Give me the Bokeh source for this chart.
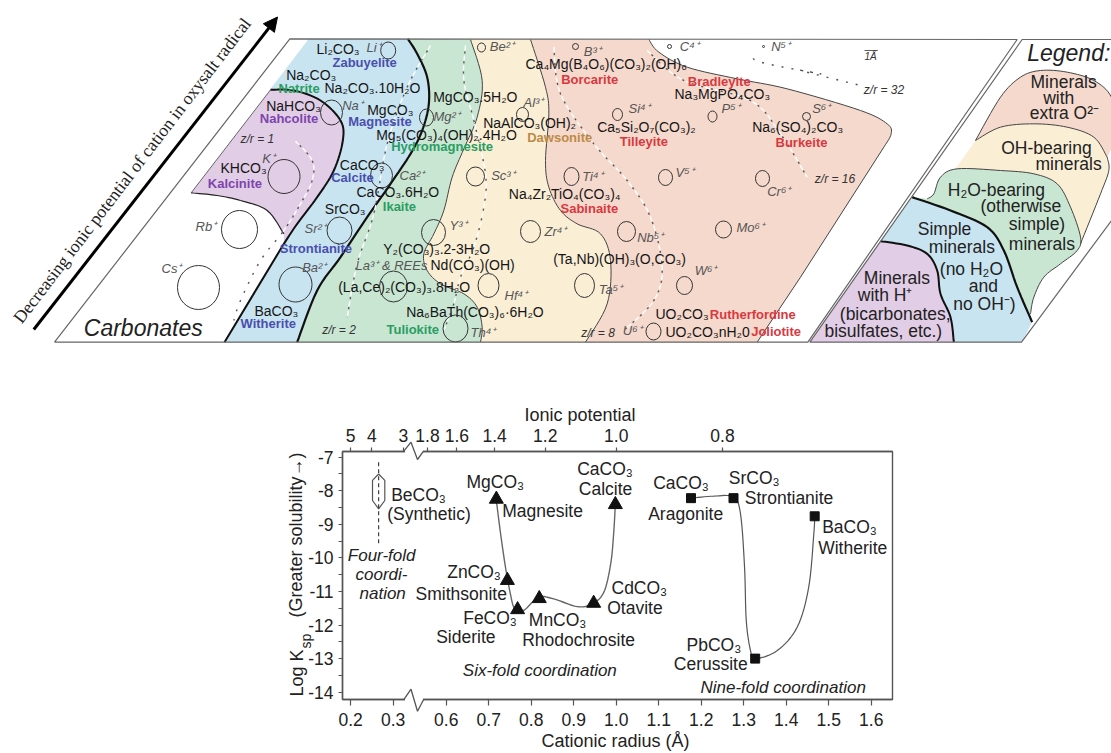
from bokeh.plotting import figure
from bokeh.layouts import column
from bokeh.embed import file_html
from bokeh.resources import INLINE
from bokeh.core.properties import value
from bokeh.models import Range1d, FixedTicker, LinearAxis, Arrow, NormalHead

SANS = "Liberation Sans"

# ---------------------------------------------------------------- lower chart data
six_names = ["MgCO3", "ZnCO3", "FeCO3", "MnCO3", "CdCO3", "CaCO3"]
six_radius = [0.718, 0.744, 0.768, 0.819, 0.947, 0.998]
six_logksp = [-8.25, -10.67, -11.54, -11.21, -11.35, -8.41]
nine_names = ["CaCO3", "SrCO3", "PbCO3", "BaCO3"]
nine_radius = [1.176, 1.276, 1.327, 1.467]
nine_logksp = [-8.22, -8.22, -13.0, -8.76]
six_curve_r = [.718, .728, .7395, .751, .759, .771, .787, .818, .853, .908, .9435, .971, .987, .994, .998]
six_curve_k = [-8.29, -9.28, -10.28, -11.07, -11.47, -11.62, -11.52, -11.17, -11.22, -11.45, -11.37, -11.02, -10.18, -9.28, -8.39]
nine_curve_r = [1.176, 1.2296, 1.276, 1.2925, 1.302, 1.306, 1.316, 1.327, 1.379, 1.426, 1.453, 1.465, 1.467]
nine_curve_k = [-8.22, -8.16, -8.19, -8.69, -10.28, -11.86, -12.76, -13.0, -12.76, -12.06, -10.87, -9.28, -8.76]
be_hex_x = [.441, .4555, .4555, .441, .4266, .4266, .441]
be_hex_y = [-7.5, -7.69, -8.29, -8.54, -8.29, -7.69, -7.5]
be_line_x = [.441, .441]
be_line_y = [-7.15, -9.58]

radius_ticks = [0.2, 0.3, 0.6, 0.7, 0.8, 0.9, 1.0, 1.1, 1.2, 1.3, 1.4, 1.5, 1.6]
potential_labels = ["5", "4", "3", "1.8", "1.6", "1.4", "1.2", "1.0", "0.8"]
potential_pos = [0.375, 0.425, 0.4995, 0.556, 0.625, 0.714, 0.833, 1.0, 1.25]
logk_ticks = [-7, -8, -9, -10, -11, -12, -13, -14]
logk_minor = [-7.5, -8.5, -9.5, -10.5, -11.5, -12.5, -13.5]
BREAK = 0.175


def z1(p):
    return [(x / 3, y / 3) for x, y in p]


def z2(p):
    return [(420 + x / 3, 20 + y / 3) for x, y in p]


def z3(p):
    return [(800 + x / 3, 30 + y / 3) for x, y in p]


def smooth(pts, n=8):
    """Rounded path through the hand-read outline points of a schematic field."""
    P = [pts[0]] + list(pts) + [pts[-1]]
    out = []
    for i in range(1, len(P) - 2):
        for k in range(n):
            t = k / n
            o = []
            for d in (0, 1):
                a, b, c, e = P[i - 1][d], P[i][d], P[i + 1][d], P[i + 2][d]
                o.append(.5 * (2 * b + (c - a) * t + (2 * a - 5 * b + 4 * c - e) * t * t + (3 * b - a - 3 * c + e) * t ** 3))
            out.append(tuple(o))
    out.append(pts[-1])
    return out


# ---------------------------------------------------------------- upper diagram data
blue_right = z1([(1222, 115), (1250, 160), (1280, 230), (1285, 310), (1265, 390), (1230, 460), (1170, 550), (1100, 650), (1020, 770), (950, 870), (890, 1025)])
green_right = z2([(150, 57), (185, 180), (170, 290), (130, 385), (95, 470), (70, 570), (40, 640), (10, 700), (20, 750), (60, 790), (130, 820), (170, 860), (185, 920), (180, 965)])
yellow_right = z2([(330, 57), (375, 200), (385, 280), (375, 420), (385, 500), (420, 570), (470, 610), (540, 640), (570, 720), (560, 850), (495, 965)])
pink_top = z2([(685, 57), (715, 95), (800, 140), (950, 175), (1100, 205)]) + z3([(180, 240), (260, 280), (272, 310), (250, 350)])
pink_edge = z3([(250, 350), (0, 740)]) + z2([(1010, 965)])
purple_top = z1([(810, 268), (880, 270), (960, 300), (1020, 360), (1027, 420), (1000, 510), (950, 590), (890, 670), (850, 730), (672, 1025)])
purple_bot = z1([(850, 700), (800, 630), (720, 600), (650, 585), (572, 577)])

lg_pink_top = z3([(525, 330), (600, 200), (660, 140), (720, 120), (800, 125), (880, 150), (933, 200), (960, 300)])
lg_pink_bot = z3([(525, 330), (600, 290), (700, 280), (800, 290), (880, 320), (920, 380)])
lg_yel_right = z3([(920, 380), (925, 420), (900, 490), (840, 640)])
lg_green_top = z3([(380, 505), (400, 490), (420, 440), (470, 415), (600, 420), (700, 430), (770, 460), (810, 530), (840, 620), (830, 660), (780, 700), (730, 740), (700, 800), (690, 850)])
lg_blue_top = z3([(335, 500), (450, 540), (560, 590), (610, 660), (650, 770), (695, 875)])
lg_purple_top = z3([(240, 632), (320, 645), (380, 670), (410, 720), (420, 790), (450, 860), (460, 935)])

contours = [
    z1([(885, 422), (935, 480), (935, 540), (900, 610), (850, 690), (780, 780), (720, 900), (700, 960)]),
    z1([(1290, 135), (1220, 260), (1160, 430), (1120, 640), (1070, 790), (1040, 950)]),
    z2([(135, 75), (130, 180), (160, 300), (195, 460), (190, 560), (160, 680), (120, 770), (100, 850), (70, 930)]),
    z2([(400, 80), (420, 220), (520, 370), (620, 480), (690, 590), (725, 740), (700, 840), (610, 930)]),
    z2([(680, 90), (790, 180), (990, 240), (1080, 340), (1160, 470)]),
    z2([(990, 98), (1020, 125), (1200, 160)]) + z3([(0, 120), (180, 165)]),
]

ion_x = [387.7, 331, 426, 283.5, 381, 239, 339, 198, 295, 393, 433, 455, 488, 475, 522, 481, 575, 669, 763, 617, 712, 806, 571, 665, 762, 530, 626, 723, 584, 684, 653]
ion_y = [50, 112, 117, 176, 175, 229, 230, 287, 284, 286, 232, 328, 285, 176, 114, 47, 46, 46, 46, 114, 116, 116, 176, 177, 178, 231, 231, 229, 285, 285, 331]
ion_w = [15, 22, 14, 32, 22, 36, 25, 42, 33, 28, 24, 25, 21, 18, 12, 8, 6, 4, 2, 10, 9, 8, 15, 14, 14, 20, 18, 16, 20, 16, 15]
ion_h = [17, 25, 17, 34, 25, 38, 27, 44, 35, 31, 26, 27, 24, 19, 14, 9, 6, 4, 2, 12, 11, 8, 18, 16, 16, 22, 20, 17, 24, 18, 17]

ion_labels = ["Li⁺", "Na⁺", "Mg²⁺", "K⁺", "Ca²⁺", "Sr²⁺", "Rb⁺", "Y³⁺", "La³⁺ & REEs", "Cs⁺", "Ba²⁺", "Th⁴⁺", "Be²⁺", "B³⁺", "C⁴⁺", "N⁵⁺", "Al³⁺", "Si⁴⁺", "P⁵⁺", "S⁶⁺", "Sc³⁺", "Ti⁴⁺", "V⁵⁺", "Cr⁶⁺", "Zr⁴⁺", "Nb⁵⁺", "Mo⁶⁺", "W⁶⁺", "Ta⁵⁺", "Hf⁴⁺", "U⁶⁺"]
ion_lx = [366, 341.7, 433, 261.7, 399, 304, 195, 449, 355, 161, 301.7, 470, 489.3, 583.3, 679.3, 770.7, 523, 628, 721, 811.7, 490.7, 581.7, 675, 766.7, 544, 636.7, 736, 694.3, 598.3, 504, 622.3]
ion_ly = [52, 110, 120.7, 162.7, 180, 232.7, 231, 230, 269.3, 272.7, 271.7, 336.7, 50.7, 56, 50.7, 50.7, 106.7, 113, 113, 113, 179.3, 181, 176.7, 196, 236, 241.7, 231.7, 275, 293.3, 300, 335]

formula_labels = ["Li₂CO₃", "Na₂CO₃", "Na₂CO₃.10H₂O", "NaHCO₃", "MgCO₃", "Mg₅(CO₃)₄(OH)₂.4H₂O", "KHCO₃", "CaCO₃", "CaCO₃.6H₂O", "SrCO₃", "Y₂(CO₃)₃.2-3H₂O", "Nd(CO₃)(OH)", "(La,Ce)₂(CO₃)₃.8H₂O", "BaCO₃", "Na₆BaTh(CO₃)₆·6H₂O", "Ca₄Mg(B₄O₆)(CO₃)₂(OH)₆", "Na₃MgPO₄CO₃", "MgCO₃.5H₂O", "NaAlCO₃(OH)₂", "Ca₅Si₂O₇(CO₃)₂", "Na₆(SO₄)₂CO₃", "Na₄Zr₂TiO₄(CO₃)₄", "(Ta,Nb)(OH)₃(O,CO₃)", "UO₂CO₃", "UO₂CO₃nH₂0"]
formula_x = [316, 285.7, 324, 265.7, 366.7, 375.7, 220, 339.3, 356, 324.3, 382.7, 430, 337.7, 254, 405.7, 525, 674, 432.7, 482.7, 596.7, 751.7, 508.3, 552.7, 655, 665]
formula_y = [53, 79.3, 92.7, 110.7, 114.3, 139, 172.7, 169.3, 196.7, 213.3, 253.3, 269.3, 291.7, 315, 316, 68.3, 98.3, 101.7, 127.3, 131.7, 131.7, 198.3, 263.3, 318.3, 336]

BLUE_T, GREEN_T, PURPLE_T, RED_T, BROWN_T = "#4a4fae", "#2a9d62", "#7d45ab", "#d9383f", "#bd8a45"
mineral_labels = ["Zabuyelite", "Natrite", "Nahcolite", "Magnesite", "Hydromagnesite", "Kalcinite", "Calcite", "Ikaite", "Strontianite", "Witherite", "Tuliokite", "Borcarite", "Bradleyite", "Dawsonite", "Tilleyite", "Burkeite", "Sabinaite", "Rutherfordine", "Joliotite"]
mineral_x = [332, 278, 259.3, 347.7, 390.7, 207.3, 330.7, 382.3, 279.3, 240, 386, 560.7, 687.3, 526.7, 619.3, 775, 560, 709.3, 750.7]
mineral_y = [66.7, 92.7, 122.7, 126, 151, 187.3, 181.7, 211, 252.3, 327.7, 333.3, 83.3, 85.3, 141.7, 146, 146.7, 212.7, 318.3, 336]
mineral_c = [BLUE_T, GREEN_T, PURPLE_T, BLUE_T, GREEN_T, PURPLE_T, BLUE_T, GREEN_T, BLUE_T, BLUE_T, GREEN_T, RED_T, RED_T, BROWN_T, RED_T, RED_T, RED_T, RED_T, RED_T]

zr_labels = ["z/r = 1", "z/r = 2", "z/r = 8", "z/r = 16", "z/r = 32"]
zr_x = [240, 321.7, 580.7, 814.3, 863.3]
zr_y = [142.7, 333.3, 336.7, 182.7, 93.3]

legend_labels = ["Minerals", "with", "extra O²⁻", "OH-bearing", "minerals", "H₂O-bearing", "(otherwise", "simple)", "minerals", "Simple", "minerals", "(no H₂O", "and", "no OH⁻)", "Minerals", "with H⁺", "(bicarbonates,", "bisulfates, etc.)"]
legend_x = [1030, 1042.7, 1029.3, 1000.7, 1035, 947.3, 980, 1008.3, 1008.3, 917.3, 928.3, 939.3, 968.3, 952.7, 863.3, 857.3, 839.3, 824]
legend_y = [87.3, 104, 118.3, 153.3, 170, 195.7, 211.7, 230, 250, 235, 252.7, 275, 291.7, 310, 283.3, 300.7, 319.3, 336.7]


def txt(fig, xs, ys, labels, size, color="#222222", style="normal", turned=False, font=SANS):
    """Left-anchored text whose baseline lies at the given point."""
    shift = -0.35 * size
    fig.text(xs, ys, text=labels, text_font=value(font), text_font_size=f"{size}px", text_font_style=style,
             text_color=color, text_baseline="alphabetic",
             x_offset=shift if turned else 0, y_offset=0 if turned else shift,
             angle=90 if turned else 0, angle_units="deg")


# ---------------------------------------------------------------- upper figure
top = figure(width=1111, height=380, x_range=Range1d(0, 1111), y_range=Range1d(380, 0),
             x_axis_location=None, y_axis_location=None, toolbar_location=None,
             output_backend="svg", min_border=0, outline_line_color=None, frame_align=False)
top.grid.visible = False


def poly(fig, pts, color):
    fig.patch([a for a, _ in pts], [b for _, b in pts], fill_color=color, line_color=None)


def path(fig, pts, color="#333333", width=1.0, **kw):
    fig.line([a for a, _ in pts], [b for _, b in pts], line_color=color, line_width=width, **kw)


C_BLUE, C_GREEN, C_YEL, C_PINK, C_PUR = "#c9e4f1", "#c9e6d3", "#faeed5", "#f5d9cd", "#e2cde6"
sb, sg, sy, st, sp = smooth(blue_right), smooth(green_right), smooth(yellow_right), smooth(pink_top), smooth(purple_top[:-1])

poly(top, sy + pink_edge[::-1] + st[::-1], C_PINK)
poly(top, sg + sy[::-1], C_YEL)
poly(top, sb + sg[::-1], C_GREEN)
poly(top, z1([(925, 115)]) + sb + [purple_top[-1]] + sp[::-1] + z1([(808, 268)]), C_BLUE)
poly(top, z1([(572, 577)]) + sp + smooth(purple_bot), C_PUR)

path(top, sg, "#444444", 1)
path(top, sy, "#444444", 1)
path(top, st, "#444444", 1)
path(top, pink_edge, "#444444", 1)
path(top, sb, "#111111", 2.2)
path(top, sp + [purple_top[-1]], "#111111", 2.0)
path(top, smooth(purple_bot), "#222222", 1.2)
path(top, z1([(572, 577), (810, 268)]), "#444444", 0.8)

for c in contours:
    s = smooth(c)
    path(top, s, "#ffffff", 1.4, line_dash="5 5")
    path(top, s, "#555555", 1.4, line_dash="2 8", line_dash_offset=-6)

top.ellipse(ion_x, ion_y, width=ion_w, height=ion_h, fill_alpha=0, line_color="#333333", line_width=1)

outer = z1([(162, 1025), (868, 115)]) + z3([(650, 27), (22, 935), (0, 935)]) + z1([(162, 1025)])
path(top, outer, "#666666", 1.2)

# Legend panel
poly(top, smooth(lg_pink_top) + smooth(lg_pink_bot)[::-1], C_PINK)
poly(top, z3([(465, 415)]) + smooth(lg_pink_bot) + smooth(lg_yel_right) + z3([(700, 430)]), C_YEL)
poly(top, smooth(lg_green_top) + smooth(lg_blue_top)[::-1], C_GREEN)
poly(top, smooth(lg_blue_top) + z3([(663, 935), (460, 935)]) + smooth(lg_purple_top)[::-1], C_BLUE)
poly(top, z3([(28, 935)]) + smooth(lg_purple_top), C_PUR)
path(top, smooth(lg_pink_top) , "#444444", 1)
path(top, smooth(lg_pink_bot), "#444444", 1)
path(top, smooth(lg_yel_right), "#444444", 1)
path(top, smooth(lg_green_top), "#444444", 1)
path(top, smooth(lg_blue_top), "#111111", 2.2)
path(top, smooth(lg_purple_top), "#111111", 2.0)
frame2 = z3([(933, 27), (665, 27), (28, 935), (663, 935), (933, 570)])
path(top, frame2, "#666666", 1.2)

# texts
txt(top, ion_lx, ion_ly, ion_labels, 13, "#555555", "italic")
txt(top, formula_x, formula_y, formula_labels, 14, "#151515")
txt(top, mineral_x, mineral_y, mineral_labels, 13, mineral_c, "bold")
txt(top, zr_x, zr_y, zr_labels, 12, "#333333", "italic")
txt(top, legend_x, legend_y, legend_labels, 17.5)
txt(top, [83.3, 1026.7], [336, 60.7], ["Carbonates", "Legend:"], 23, style="italic")
txt(top, [864], [59.3], ["1Å"], 10, "#333333", "italic")
path(top, z3([(192, 60), (232, 60)]), "#333333", 0.8)
top.text([131.5], [170], text=["Decreasing ionic potential of cation in oxysalt radical"],
         text_font=value("Liberation Serif"), text_font_size="17.7px", text_color="#222222",
         angle=52.6, angle_units="deg", text_align="center", text_baseline="middle")
top.add_layout(Arrow(end=NormalHead(size=14, fill_color="#000000", line_color="#000000"),
                     x_start=33.3, y_start=329, x_end=277, y_end=16.5, line_width=3, line_color="#000000"))

# ---------------------------------------------------------------- lower figure


def fx(px):
    return .6 + (px - 445.7) / 425


def fy(py):
    return -7 - (py - 456.7) / 33.57


low = figure(width=1111, height=373, x_range=Range1d(fx(342), fx(892)), y_range=Range1d(fy(699), fy(451)),
             toolbar_location=None, output_backend="svg", min_border_left=342, min_border_right=219,
             min_border_top=71, min_border_bottom=54, outline_line_color="#555555", outline_line_width=1.4,
             frame_align=False)
low.grid.visible = False
AX = "#555555"

x_pos = [round(r + BREAK, 3) if r < 0.5 else r for r in radius_ticks]
xa = low.xaxis[0]
xa.ticker = FixedTicker(ticks=x_pos)
xa.major_label_overrides = {p: f"{r:.1f}" for p, r in zip(x_pos, radius_ticks)}
ya = low.yaxis[0]
ya.ticker = FixedTicker(ticks=logk_ticks, minor_ticks=logk_minor)
ya.major_label_overrides = {k: str(k) for k in logk_ticks}
tx = LinearAxis(ticker=FixedTicker(ticks=potential_pos),
                major_label_overrides=dict(zip(potential_pos, potential_labels)))
low.add_layout(tx, "above")
for a, tick_out in ((xa, 6), (ya, 4), (tx, 4)):
    a.axis_line_color = AX
    a.axis_line_width = 1.4
    a.major_tick_line_color = AX
    a.major_tick_line_width = 1.2
    a.major_tick_in = 0
    a.major_tick_out = tick_out
    a.minor_tick_line_color = None
    a.major_label_text_font = SANS
    a.major_label_text_font_size = "17.5px"
    a.major_label_text_color = "#222222"
    a.major_label_standoff = 6
ya.minor_tick_line_color = AX
ya.minor_tick_line_width = 1.2
ya.minor_tick_in = 0
ya.minor_tick_out = 4
ya.major_label_standoff = 5
xa.major_label_standoff = 7

s6 = smooth(list(zip(six_curve_r, six_curve_k)))
s9 = smooth(list(zip(nine_curve_r, nine_curve_k)))
low.line([p[0] for p in s6], [p[1] for p in s6], line_color="#666666", line_width=1.4)
low.line([p[0] for p in s9], [p[1] for p in s9], line_color="#555555", line_width=1.2)
low.scatter(six_radius, six_logksp, marker="triangle", size=14, color="#111111")
low.scatter(nine_radius, nine_logksp, marker="square", size=9, color="#111111")
low.line(be_hex_x, be_hex_y, line_color="#555555", line_width=1.2)
low.line(be_line_x, be_line_y, line_color="#444444", line_width=1.2, line_dash="4 3")

plain_t = ["MgCO₃", "Magnesite", "BeCO₃", "(Synthetic)", "ZnCO₃", "Smithsonite", "FeCO₃", "Siderite", "MnCO₃", "Rhodochrosite", "CaCO₃", "Calcite", "CdCO₃", "Otavite", "CaCO₃", "Aragonite", "SrCO₃", "Strontianite", "BaCO₃", "Witherite", "PbCO₃", "Cerussite"]
plain_x = [466, 501.7, 390.7, 386.7, 446.7, 415, 462.7, 435.7, 528.3, 521.7, 576.7, 578.3, 611, 606.7, 652.7, 647.7, 728.3, 744.3, 821.7, 817.7, 686, 673.3]
plain_y = [487.3, 516.7, 501, 519.3, 577.7, 600, 623.3, 642.7, 626, 645.3, 475, 495, 594, 613.3, 488.3, 519.3, 483.3, 504, 532.3, 553.3, 650.7, 670]
ital_t = ["Four-fold", "coordi-", "nation", "Six-fold coordination", "Nine-fold coordination"]
ital_x = [347.3, 355, 359, 462.3, 700]
ital_y = [561, 580, 599, 676, 692.7]
txt(low, [fx(v) for v in plain_x], [fy(v) for v in plain_y], plain_t, 17.5)
txt(low, [fx(v) for v in ital_x], [fy(v) for v in ital_y], ital_t, 17, style="italic")

# ---------------------------------------------------------------- transparent sheet over the lower figure:
# axis breaks and axis titles, which lie outside its plotting frame
sheet = figure(width=1111, height=373, x_range=Range1d(0, 1111), y_range=Range1d(753, 380),
               x_axis_location=None, y_axis_location=None, toolbar_location=None, output_backend="svg",
               min_border=0, outline_line_color=None, frame_align=False,
               background_fill_color=None, border_fill_color=None, margin=(-373, 0, 0, 0))
sheet.grid.visible = False
for base, up, down in ((450.7, 441.7, 459), (699.2, 688.7, 710.7)):
    sheet.line([404.5, 422.5], [base, base], line_color="#ffffff", line_width=4)
    sheet.line([403.3, 410.5, 417, 423], [base, up, down, base], line_color=AX, line_width=1.3)
txt(sheet, [524, 541], [420.7, 747], ["Ionic potential", "Cationic radius (Å)"], 18)
txt(sheet, [303, 302], [696, 617], ["Log K", "(Greater solubility→)"], 18, turned=True)
txt(sheet, [310], [648], ["sp"], 14, turned=True)

open("out.html", "w").write(file_html(column(top, low, sheet, spacing=0), INLINE))
